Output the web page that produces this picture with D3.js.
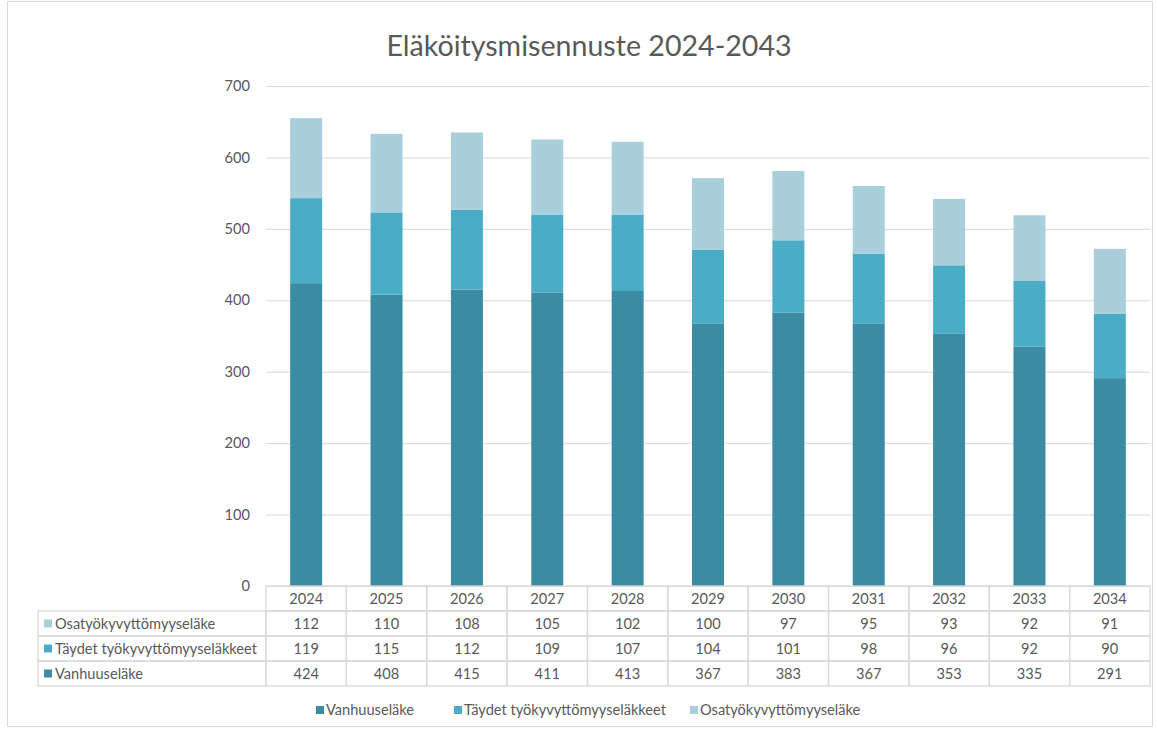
<!DOCTYPE html>
<html>
<head>
<meta charset="utf-8">
<title>Eläköitysmisennuste 2024-2043</title>
<style>
	body { margin: 0; background: #fff; font-family: Lato, "Open Sans", sans-serif; }
	.grid line { stroke: #d9d9d9; stroke-width: 1; }
	.grid path { display: none; }
	.axis text, .tbl text, .legend text { fill: #595959; font-size: 14.6px; }
	.title { fill: #595959; font-size: 28.6px; }
	.cell { fill: none; stroke: #d9d9d9; stroke-width: 1.3; }
</style>
</head>
<body>
<div id="chart"></div>
<script src="https://cdnjs.cloudflare.com/ajax/libs/d3/7.8.5/d3.min.js"></script>
<script>
	var years = ["2024", "2025", "2026", "2027", "2028", "2029", "2030", "2031", "2032", "2033", "2034"];
	var vanhuus = [424, 408, 415, 411, 413, 367, 383, 367, 353, 335, 291];
	var taydet = [119, 115, 112, 109, 107, 104, 101, 98, 96, 92, 90];
	var osa = [112, 110, 108, 105, 102, 100, 97, 95, 93, 92, 91];
	var yTicks = [0, 100, 200, 300, 400, 500, 600, 700];

	var seriesNames = ["Vanhuuseläke", "Täydet työkyvyttömyyseläkkeet", "Osatyökyvyttömyyseläke"];
	var colors = ["#3b8ba3", "#4bacc6", "#a9cfdc"];

	var W = 1157, H = 729;
	var plot = { left: 266, right: 1150, top: 86, bottom: 586 };

	var svg = d3.select("#chart").append("svg")
		.attr("width", W)
		.attr("height", H);

	// outer chart border
	svg.append("rect")
		.attr("x", 7.5).attr("y", 1.5)
		.attr("width", 1145).attr("height", 725)
		.attr("fill", "none").attr("stroke", "#d9d9d9");

	svg.append("text")
		.attr("class", "title")
		.attr("x", 589).attr("y", 56)
		.attr("text-anchor", "middle")
		.text("Eläköitysmisennuste 2024-2043");

	var x = d3.scaleBand().domain(years).range([plot.left, plot.right]);
	var y = d3.scaleLinear().domain([0, 700]).range([plot.bottom, plot.top]);

	svg.append("g")
		.attr("class", "grid")
		.attr("transform", "translate(" + plot.left + ",0)")
		.call(d3.axisLeft(y).tickValues(yTicks).tickSize(-(plot.right - plot.left)).tickFormat(""));

	var yAxis = svg.append("g")
		.attr("class", "axis")
		.attr("transform", "translate(" + plot.left + ",0)")
		.call(d3.axisLeft(y).tickValues(yTicks).tickSize(0).tickPadding(16));
	yAxis.select(".domain").remove();
	yAxis.selectAll("text").style("font-family", "Lato, sans-serif");

	// stacked bars
	var rows = years.map(function(yr, i) {
		return { year: yr, v0: vanhuus[i], v1: taydet[i], v2: osa[i] };
	});
	var stack = d3.stack().keys(["v0", "v1", "v2"])(rows);
	var barW = 32;

	svg.append("g").selectAll("g")
		.data(stack)
		.join("g")
		.attr("fill", function(d, i) { return colors[i]; })
		.selectAll("rect")
		.data(function(d) { return d; })
		.join("rect")
		.attr("x", function(d) { return x(d.data.year) + (x.bandwidth() - barW) / 2; })
		.attr("width", barW)
		.attr("y", function(d) { return y(d[1]); })
		.attr("height", function(d) { return y(d[0]) - y(d[1]); });

	// data table under the chart
	var rowH = 25;
	var tbl = svg.append("g").attr("class", "tbl");
	var labelLeft = 38;
	var tableRows = [
		{ name: seriesNames[2], vals: osa, color: colors[2] },
		{ name: seriesNames[1], vals: taydet, color: colors[1] },
		{ name: seriesNames[0], vals: vanhuus, color: colors[0] }
	];

	// header row
	years.forEach(function(yr) {
		tbl.append("rect").attr("class", "cell")
			.attr("x", x(yr)).attr("y", plot.bottom)
			.attr("width", x.bandwidth()).attr("height", rowH);
		tbl.append("text")
			.attr("x", x(yr) + x.bandwidth() / 2)
			.attr("y", plot.bottom + rowH / 2 + 5)
			.attr("text-anchor", "middle")
			.text(yr);
	});

	tableRows.forEach(function(r, ri) {
		var top = plot.bottom + rowH * (ri + 1);
		tbl.append("rect").attr("class", "cell")
			.attr("x", labelLeft).attr("y", top)
			.attr("width", plot.left - labelLeft).attr("height", rowH);
		tbl.append("rect")
			.attr("x", labelLeft + 6).attr("y", top + rowH / 2 - 4)
			.attr("width", 8).attr("height", 8)
			.attr("fill", r.color);
		tbl.append("text")
			.attr("x", labelLeft + 17)
			.attr("y", top + rowH / 2 + 5)
			.text(r.name);
		years.forEach(function(yr, i) {
			tbl.append("rect").attr("class", "cell")
				.attr("x", x(yr)).attr("y", top)
				.attr("width", x.bandwidth()).attr("height", rowH);
			tbl.append("text")
				.attr("x", x(yr) + x.bandwidth() / 2)
				.attr("y", top + rowH / 2 + 5)
				.attr("text-anchor", "middle")
				.text(r.vals[i]);
		});
	});

	// legend
	var legendX = [316, 454, 690];
	var legend = svg.append("g").attr("class", "legend");
	seriesNames.forEach(function(name, i) {
		legend.append("rect")
			.attr("x", legendX[i]).attr("y", 706)
			.attr("width", 8).attr("height", 8)
			.attr("fill", colors[i]);
		legend.append("text")
			.attr("x", legendX[i] + 10)
			.attr("y", 715)
			.text(name);
	});
</script>
</body>
</html>
